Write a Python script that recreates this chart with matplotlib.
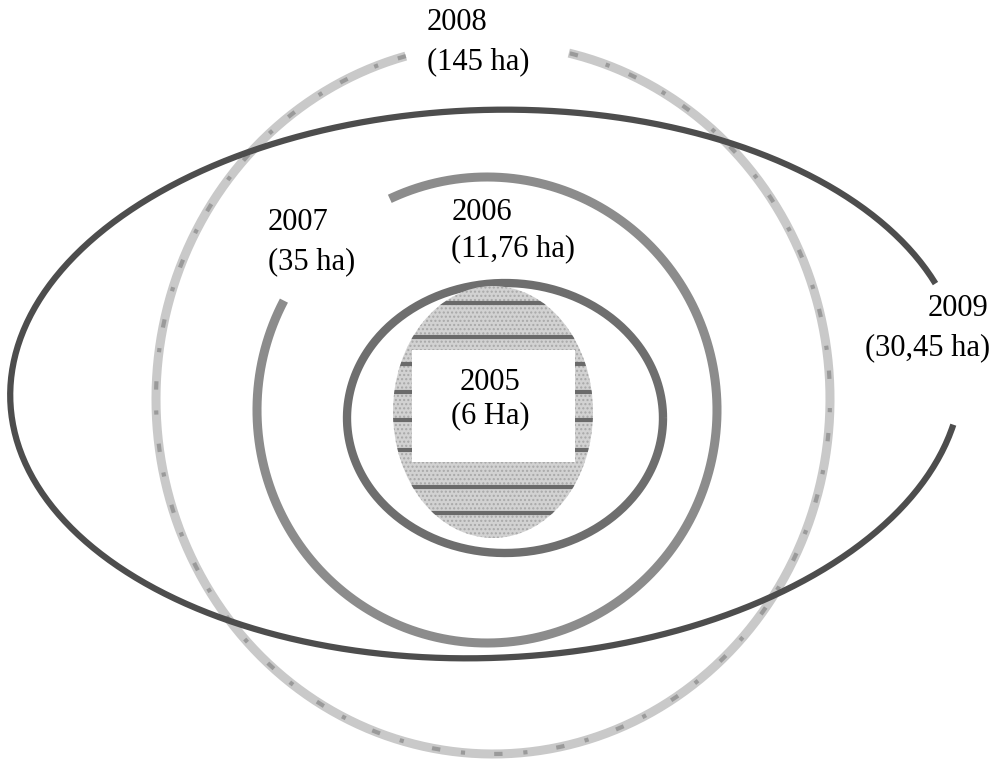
import numpy as np
import matplotlib.pyplot as plt
from matplotlib.patches import Ellipse, Rectangle

# labels for each year (year, area)
years = ["2005", "2006", "2007", "2008", "2009"]
areas = ["(6 Ha)", "(11,76 ha)", "(35 ha)", "(145 ha)", "(30,45 ha)"]

# stripe rows inside the 2005 patch (image pixel rows)
stripe_rows = [303, 337, 364, 392, 420, 450, 487, 513]

plt.rcParams['font.family'] = ['Liberation Serif', 'DejaVu Serif']

fig = plt.figure(figsize=(9.92, 7.61), dpi=100)
ax = fig.add_axes([0, 0, 1, 1])
ax.set_xlim(0, 992)
ax.set_ylim(761, 0)
ax.axis('off')


def ring(cx, cy, rx, ry, t1, t2, rot=0, **kw):
    t = np.radians(np.linspace(t1, t2, 400))
    x = rx * np.cos(t)
    y = ry * np.sin(t)
    r = np.radians(rot)
    xr = x * np.cos(r) - y * np.sin(r)
    yr = x * np.sin(r) + y * np.cos(r)
    ax.plot(cx + xr, cy - yr, solid_capstyle='butt', dash_capstyle='butt', **kw)


# 2008 - light speckled ring with gap at top
ring(493, 399, 337, 355, 105, 437, color='#c9c9c9', lw=6.5, zorder=1)
ring(493, 399, 337, 355, 105, 437, color='#9a9a9a', lw=3, ls=(0, (2, 5, 1, 7)), zorder=1)

# 2007 - medium grey ring, gap upper left
ring(487, 410, 230, 233, 152, 475, color='#8c8c8c', lw=6.5, zorder=2)

# 2009 - large dark ellipse with gap on the right
ring(486, 384, 476, 274, 18, 348, rot=2, color='#4d4d4d', lw=4.5, zorder=3)

# 2006 - darker ring
ring(505, 418, 158, 135, 0, 360, color='#6e6e6e', lw=6, zorder=2)

# 2005 - speckled filled ellipse with stripes
e = Ellipse((493, 412), 200, 252, facecolor='#d2d2d2', edgecolor='#a8a8a8',
            hatch='....', lw=0, zorder=4)
ax.add_patch(e)
for yy in stripe_rows:
    ln, = ax.plot([380, 610], [yy, yy], color='#6a6a6a', lw=3, zorder=5)
    ln.set_clip_path(e)
ax.add_patch(Rectangle((412, 350), 163, 112, facecolor='white', edgecolor='none', zorder=6))

fs = 22
ax.text(490, 383, years[0], ha='center', va='center', fontsize=fs, zorder=7)
ax.text(490, 416, areas[0], ha='center', va='center', fontsize=fs, zorder=7)
ax.text(452, 213, years[1], ha='left', va='center', fontsize=fs, zorder=7)
ax.text(451, 249, areas[1], ha='left', va='center', fontsize=fs, zorder=7)
ax.text(268, 222, years[2], ha='left', va='center', fontsize=fs, zorder=7)
ax.text(268, 262, areas[2], ha='left', va='center', fontsize=fs, zorder=7)
ax.text(427, 23, years[3], ha='left', va='center', fontsize=fs, zorder=7)
ax.text(427, 62, areas[3], ha='left', va='center', fontsize=fs, zorder=7)
ax.text(988, 308, years[4], ha='right', va='center', fontsize=fs, zorder=7)
ax.text(990, 348, areas[4], ha='right', va='center', fontsize=fs, zorder=7)

fig.savefig('out.png', dpi=100, facecolor='white')
